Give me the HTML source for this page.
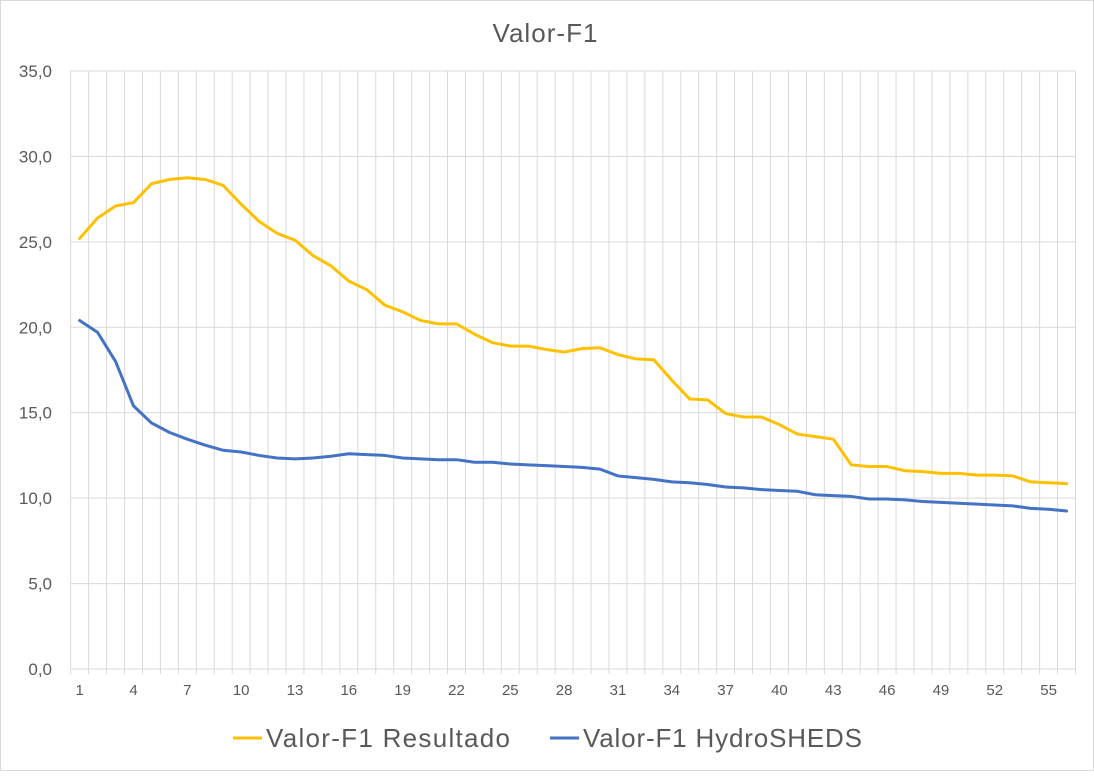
<!DOCTYPE html>
<html><head><meta charset="utf-8"><style>
body{margin:0;background:#fff;}
svg text{font-family:"Liberation Sans",sans-serif;fill:#595959;}
</style></head><body>
<svg id="chart" width="1094" height="771" xmlns="http://www.w3.org/2000/svg">
<rect x="0.5" y="0.5" width="1093" height="770" fill="#fff" stroke="#d9d9d9"/>
<text x="545" y="42" text-anchor="middle" font-size="26" textLength="105">Valor-F1</text>
<g id="grid"></g><g id="axes"></g><g id="series"></g>
<g>
<g><line x1="233" y1="738" x2="262" y2="738" stroke="#FFC000" stroke-width="3"/><text x="266" y="747" font-size="26" textLength="244">Valor-F1 Resultado</text></g>
<g><line x1="550" y1="738" x2="579" y2="738" stroke="#4472C4" stroke-width="3"/><text x="583" y="747" font-size="26" textLength="279">Valor-F1 HydroSHEDS</text></g>
</g>
</svg>
<script>
const yTicks=[0,5,10,15,20,25,30,35];
const yTickLabels=["0,0","5,0","10,0","15,0","20,0","25,0","30,0","35,0"];
const resultado=[25.2,26.4,27.1,27.3,28.4,28.65,28.75,28.65,28.3,27.2,26.2,25.5,25.1,24.2,23.6,22.7,22.2,21.3,20.9,20.4,20.2,20.2,19.6,19.1,18.9,18.9,18.7,18.55,18.75,18.8,18.4,18.15,18.1,16.9,15.8,15.75,14.95,14.75,14.75,14.3,13.75,13.6,13.45,11.95,11.85,11.85,11.6,11.55,11.45,11.45,11.35,11.35,11.3,10.95,10.9,10.85];
const hydrosheds=[20.4,19.7,18.0,15.4,14.4,13.85,13.45,13.1,12.8,12.7,12.5,12.35,12.3,12.35,12.45,12.6,12.55,12.5,12.35,12.3,12.25,12.25,12.1,12.1,12.0,11.95,11.9,11.85,11.8,11.7,11.3,11.2,11.1,10.95,10.9,10.8,10.65,10.6,10.5,10.45,10.4,10.2,10.15,10.1,9.95,9.95,9.9,9.8,9.75,9.7,9.65,9.6,9.55,9.4,9.35,9.25];
const categories=resultado.map((_,i)=>i+1);
const NS="http://www.w3.org/2000/svg";
const L=70.7,R=1075.5,T=71,B=669,yMax=35;
const n=categories.length,bw=(R-L)/n;
const x=i=>L+bw*(i+0.5);
const y=v=>B-(v/yMax)*(B-T);
function mk(tag,attrs,parent){const e=document.createElementNS(NS,tag);for(const k in attrs)e.setAttribute(k,attrs[k]);parent.appendChild(e);return e;}
const grid=document.getElementById('grid'),axes=document.getElementById('axes'),series=document.getElementById('series');
yTicks.forEach((v,i)=>{
 const g=mk('line',{x1:L,x2:R,y1:y(v),y2:y(v),stroke:'#d9d9d9','stroke-width':1},grid);
 
 
 const t=mk('text',{x:52,y:y(v)+6,'text-anchor':'end','font-size':17},axes);
 t.textContent=yTickLabels[i];
 
 
});
for(let i=0;i<=n;i++){
 const g=mk('line',{x1:L+bw*i,x2:L+bw*i,y1:T,y2:B+5,stroke:'#d9d9d9','stroke-width':1},grid);
 
 
}
categories.forEach((c,i)=>{
 if(i%3!==0)return;
 const t=mk('text',{x:x(i),y:B+26,'text-anchor':'middle','font-size':15},axes);
 t.textContent=c;
 
 
});
function line(vals,color,name){
 const p=mk('polyline',{points:vals.map((v,i)=>x(i)+','+y(v)).join(' '),fill:'none',stroke:color,'stroke-width':3,'stroke-linejoin':'round','stroke-linecap':'round'},series);
 
 
}
line(resultado,'#FFC000','series-resultado');
line(hydrosheds,'#4472C4','series-hydrosheds');
</script>
</body></html>
